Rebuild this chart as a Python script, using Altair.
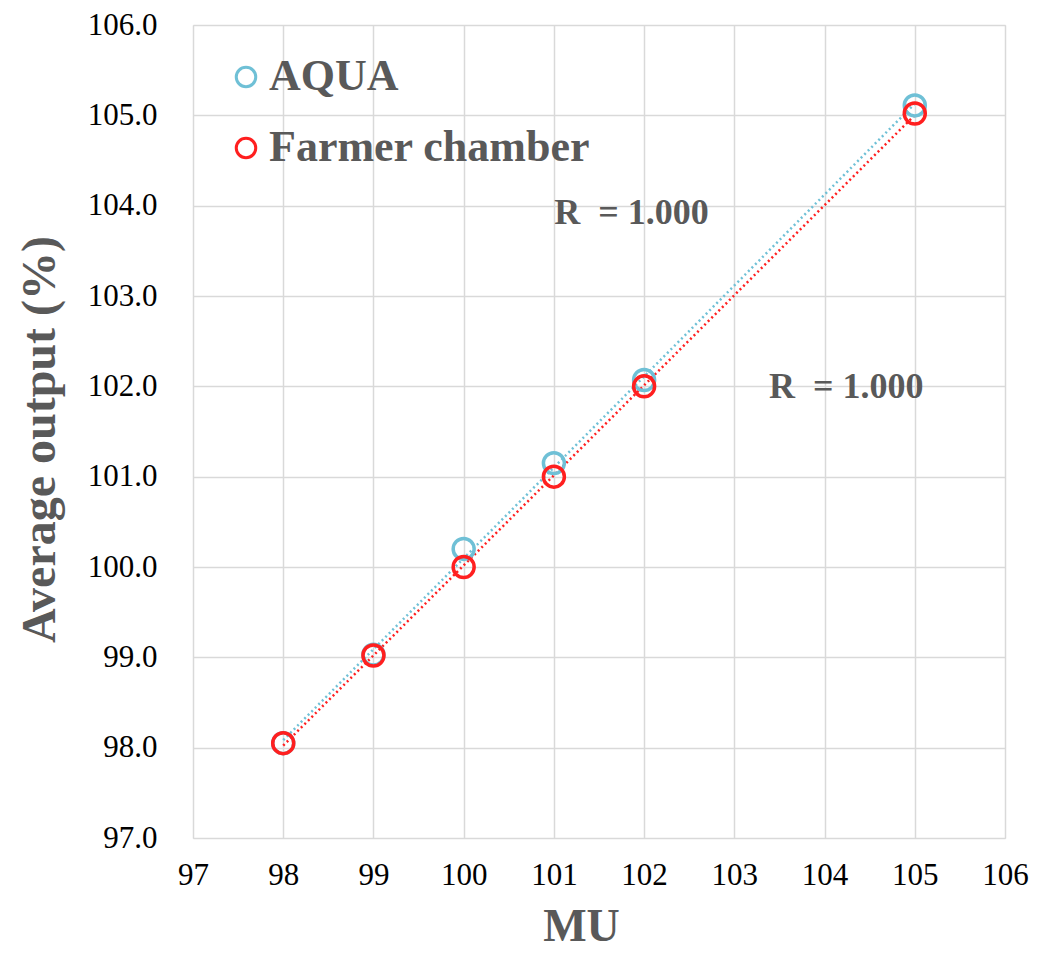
import altair as alt
import pandas as pd

mu = [98, 99, 100, 101, 102, 105]
aqua = [98.05, 99.03, 100.20, 101.15, 102.07, 105.11]
farmer = [98.05, 99.02, 100.00, 101.00, 102.00, 105.02]
series = ["AQUA", "Farmer chamber"]
colors = ["#6fc0d6", "#ff1f1f"]

r_labels = ["R\u00a0\u00a0= 1.000", "R\u00a0\u00a0= 1.000"]
r_x = [101.86, 104.24]
r_y = [103.92, 101.99]

rows = []
for m, a, f in zip(mu, aqua, farmer):
    rows.append({"MU": m, "val": a, "series": series[0]})
    rows.append({"MU": m, "val": f, "series": series[1]})
df = pd.DataFrame(rows)
ann = pd.DataFrame({"x": r_x, "y": r_y, "label": r_labels})

xs = alt.Scale(domain=[97, 106], nice=False, zero=False)
ys = alt.Scale(domain=[97, 106], nice=False, zero=False)
cs = alt.Scale(domain=series, range=colors)

xaxis = alt.Axis(title="MU", values=list(range(97, 107)), format="d",
                 labelFont="Liberation Serif", labelFontSize=31, labelColor="#000000",
                 labelFlush=False, labelOverlap=False,
                 titleFont="Liberation Serif", titleFontSize=46, titleFontWeight="bold",
                 titleColor="#595959", titlePadding=14, titleX=388,
                 domain=False, ticks=False,
                 labelPadding=22, gridColor="#d9d9d9", gridWidth=1.5)
yaxis = alt.Axis(title="Average output (%)", values=list(range(97, 107)), format=".1f",
                 labelFont="Liberation Serif", labelFontSize=31, labelColor="#000000",
                 labelFlush=False, labelOverlap=False,
                 titleFont="Liberation Serif", titleFontSize=48, titleFontWeight="bold",
                 titleColor="#595959", titlePadding=23, titleY=414,
                 domain=False, ticks=False,
                 labelPadding=36, gridColor="#d9d9d9", gridWidth=1.5)

base = alt.Chart(df)

lines = base.transform_regression("MU", "val", groupby=["series"]).mark_line(
    strokeDash=[2, 3], strokeWidth=2.5, clip=True
).encode(
    x=alt.X("MU:Q", scale=xs, axis=xaxis),
    y=alt.Y("val:Q", scale=ys, axis=yaxis),
    color=alt.Color("series:N", scale=cs, legend=None),
)

points = base.mark_point(shape="circle", size=440, strokeWidth=3.5, filled=False, opacity=1).encode(
    x=alt.X("MU:Q", scale=xs),
    y=alt.Y("val:Q", scale=ys),
    color=alt.Color("series:N", scale=cs, legend=alt.Legend(
        title=None, orient="none", legendX=31, legendY=30,
        labelFont="Liberation Serif", labelFontSize=44, labelFontWeight="bold",
        labelColor="#595959", symbolSize=380, symbolStrokeWidth=3,
        symbolType="circle", rowPadding=27, labelOffset=1, labelLimit=600)),
)

text = alt.Chart(ann).mark_text(
    font="Liberation Serif", fontSize=36, fontWeight="bold", color="#595959"
).encode(
    x=alt.X("x:Q", scale=xs),
    y=alt.Y("y:Q", scale=ys),
    text="label:N",
)

chart = (lines + points + text).resolve_legend(color="independent").properties(
    width=812, height=813,
    autosize=alt.AutoSizeParams(type="none"),
    padding={"left": 185, "top": 17, "right": 25, "bottom": 118},
).configure_view(stroke=None).configure(background="#ffffff")

chart.save("out.html", embed_options={"renderer": "svg", "actions": False})
